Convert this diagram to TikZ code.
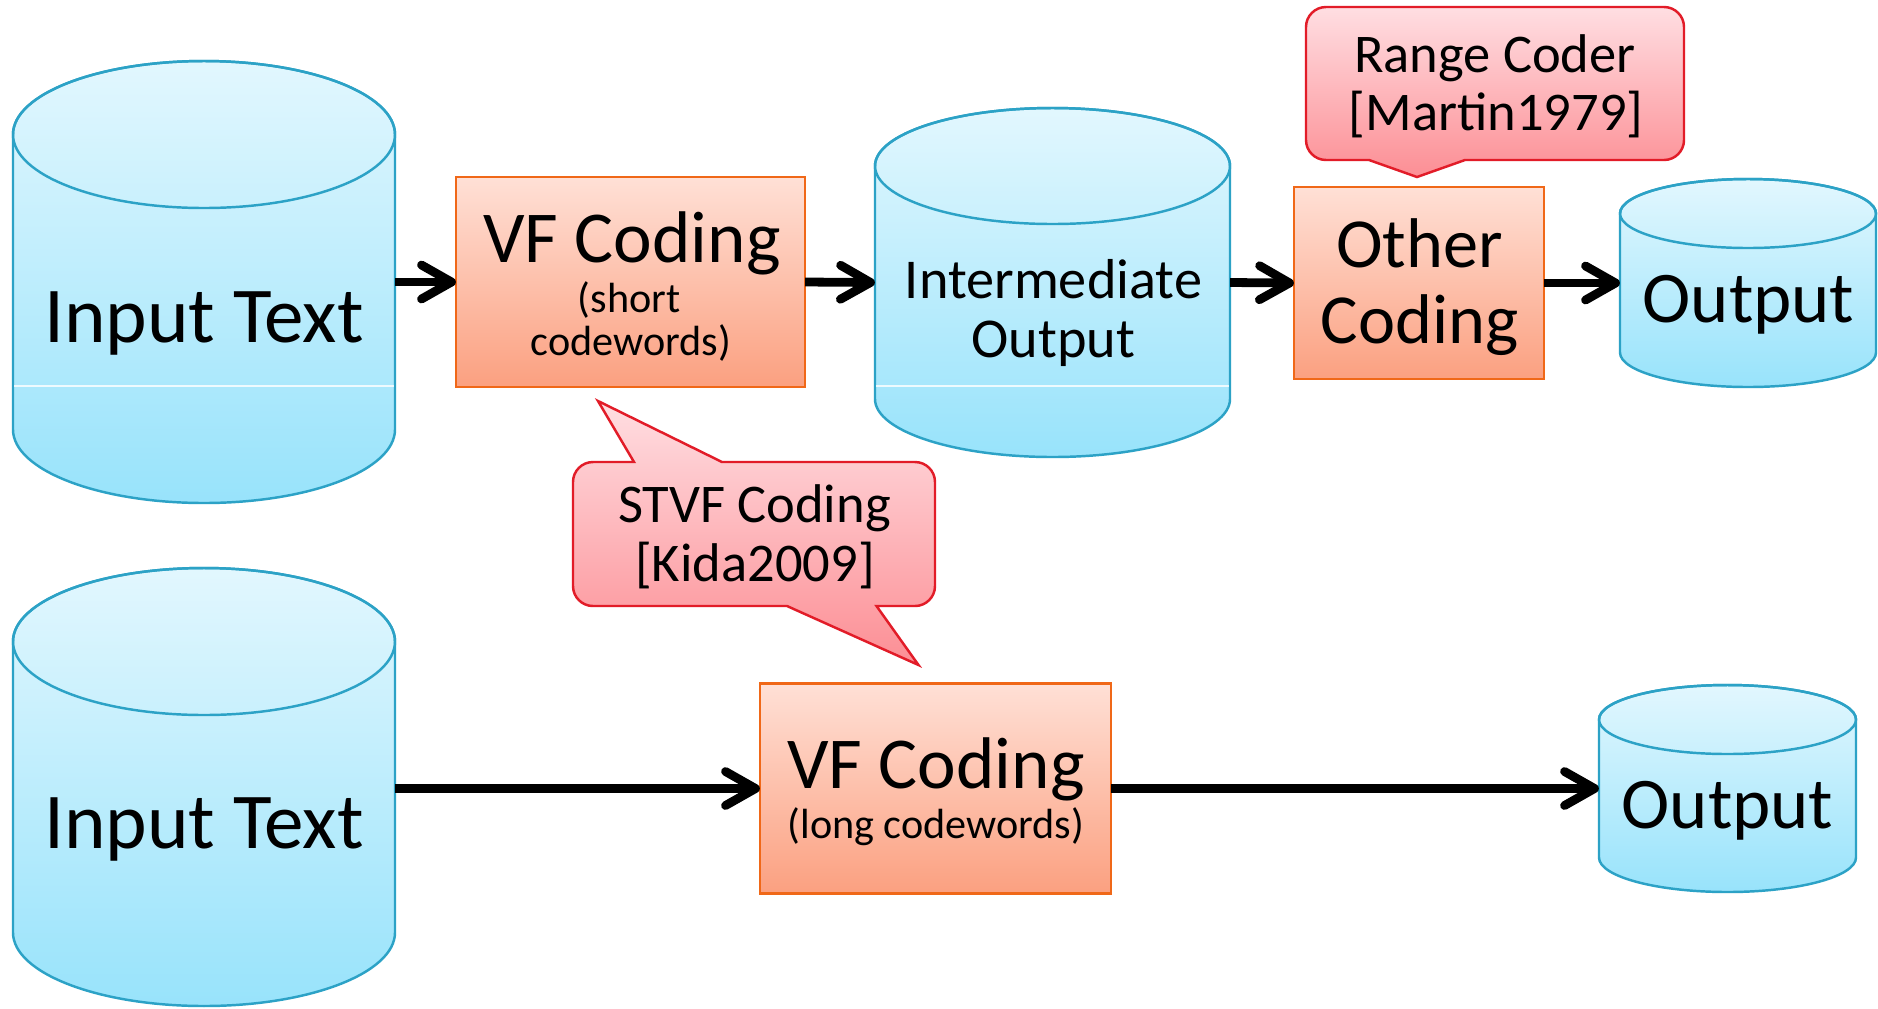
\documentclass[tikz,border=0pt]{standalone}
\usepackage{fontspec}
\setmainfont{Carlito}
\usetikzlibrary{arrows.meta}
\definecolor{cyltop}{RGB}{226,247,254}
\definecolor{cylbot}{RGB}{152,227,251}
\definecolor{cylline}{RGB}{44,162,198}
\definecolor{boxtop}{RGB}{255,224,214}
\definecolor{boxbot}{RGB}{251,160,128}
\definecolor{boxline}{RGB}{240,104,24}
\definecolor{calltop}{RGB}{255,222,226}
\definecolor{callbot}{RGB}{252,142,148}
\definecolor{callline}{RGB}{226,28,40}
\tikzset{
  anchorbox/.style={rectangle, inner sep=0, outer sep=0, draw=none},
  procbox/.style={rectangle, inner sep=0, outer sep=0, draw=boxline, line width=0.7pt, top color=boxtop, bottom color=boxbot},
  cylbody/.style={draw=cylline, line width=0.7pt, top color=cyltop, bottom color=cylbot},
  callbody/.style={draw=callline, line width=0.7pt, top color=calltop, bottom color=callbot, line join=miter},
  flow/.style={line width=2.5pt, -{Straight Barb[length=0.3cm,width=0.34cm,line cap=round,line join=round]}},
  txt/.style={anchor=base, inner sep=0, font=\fontsize{#1}{#1}\selectfont},
}
\newcommand\dbcyl[5]{%
  \pgfmathsetmacro\cyT{-(#2+#5)}%
  \pgfmathsetmacro\cyB{-(#3-#5)}%
  \path[cylbody] ({#1-#4},\cyT) -- ({#1-#4},\cyB) arc[start angle=180,end angle=360,x radius=#4,y radius=#5] -- ({#1+#4},\cyT) arc[start angle=0,end angle=180,x radius=#4,y radius=#5] -- cycle;
  \draw[cylline, line width=0.7pt] (#1,\cyT) ellipse[x radius=#4,y radius=#5];
}
\begin{document}
\begin{tikzpicture}[x=0.01cm,y=0.01cm]
\useasboundingbox[fill=white] (0,0) rectangle (1878,-1008);

% cylinders
\dbcyl{204}{61}{503}{191}{73.5}
\draw[white, line width=0.6pt, opacity=0.8] (14,-386) -- (394,-386);
\dbcyl{1052.5}{108}{457}{177.5}{58}
\draw[white, line width=0.6pt, opacity=0.8] (876,-386) -- (1229,-386);
\dbcyl{1748}{179}{387}{128}{34.5}
\dbcyl{204}{568}{1006}{191}{73.5}
\dbcyl{1727.5}{685}{892}{128.5}{34.5}

\node[anchorbox, minimum width=3.82cm, minimum height=4.42cm] (in1) at (204,-282) {};
\node[anchorbox, minimum width=3.55cm, minimum height=3.49cm] (mid) at (1052.5,-282.5) {};
\node[anchorbox, minimum width=2.56cm, minimum height=2.08cm] (out1) at (1748,-283) {};
\node[anchorbox, minimum width=3.82cm, minimum height=4.38cm] (in2) at (204,-788.5) {};
\node[anchorbox, minimum width=2.57cm, minimum height=2.07cm] (out2) at (1727.5,-788.5) {};

% process boxes
\node[procbox, minimum width=3.49cm, minimum height=2.10cm] (vf1) at (630.5,-282) {};
\node[procbox, minimum width=2.50cm, minimum height=1.92cm] (oth) at (1419,-283) {};
\node[procbox, minimum width=3.51cm, minimum height=2.10cm] (vf2) at (935.5,-788.5) {};

% callouts
\path[callbody] (1326,-7) -- (1664,-7) arc[start angle=90,end angle=0,radius=20] -- (1684,-140) arc[start angle=0,end angle=-90,radius=20] -- (1465,-160) -- (1417,-177) -- (1369,-160) -- (1326,-160) arc[start angle=270,end angle=180,radius=20] -- (1306,-27) arc[start angle=180,end angle=90,radius=20] -- cycle;
\path[callbody] (593,-462) -- (634,-462) -- (598,-401) -- (722,-462) -- (915,-462) arc[start angle=90,end angle=0,radius=20] -- (935,-586) arc[start angle=0,end angle=-90,radius=20] -- (876.5,-606) -- (918.5,-665) -- (787,-606) -- (593,-606) arc[start angle=270,end angle=180,radius=20] -- (573,-482) arc[start angle=180,end angle=90,radius=20] -- cycle;

% texts
\node[txt=22.5] (t-in1) at (204,-342) {Input Text};
\node[txt=20.8] (t-vf1) at (632,-262) {VF Coding};
\node[txt=12] (t-vf1a) at (629,-312) {(short};
\node[txt=12] (t-vf1b) at (631,-355) {codewords)};
\node[txt=16] (t-mid1) at (1053.5,-298) {Intermediate};
\node[txt=16] (t-mid2) at (1053.5,-357) {Output};
\node[txt=20] (t-oth1) at (1419.5,-267) {Other};
\node[txt=20] (t-oth2) at (1419.5,-343) {Coding};
\node[txt=20.7] (t-out1) at (1748.5,-322) {Output};
\node[txt=15.5] (t-rc1) at (1495,-72) {Range Coder};
\node[txt=15.5] (t-rc2) at (1496,-130) {[Martin1979]};
\node[txt=15.5] (t-st1) at (754.5,-522) {STVF Coding};
\node[txt=15.5] (t-st2) at (755,-581) {[Kida2009]};
\node[txt=22.5] (t-in2) at (204,-848.5) {Input Text};
\node[txt=20.8] (t-vf2) at (936,-788) {VF Coding};
\node[txt=12] (t-vf2a) at (936,-838.5) {(long codewords)};
\node[txt=20.7] (t-out2) at (1727.5,-828.5) {Output};

% connectors
\draw[flow] (in1.east) -- (vf1.west);
\draw[flow] (vf1.east) -- (mid.west);
\draw[flow] (mid.east) -- (oth.west);
\draw[flow] (oth.east) -- (out1.west);
\draw[flow] (in2.east) -- (vf2.west);
\draw[flow] (vf2.east) -- (out2.west);
\end{tikzpicture}
\end{document}
